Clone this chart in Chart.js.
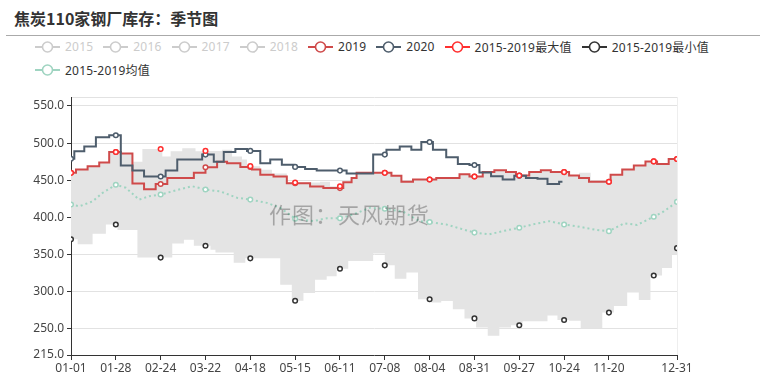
<!DOCTYPE html>
<html><head><meta charset="utf-8">
<script src="https://cdn.jsdelivr.net/npm/chart.js@4.4.0/dist/chart.umd.min.js"></script>
<style>
html,body{margin:0;padding:0;background:#fff;}
body{width:760px;height:389px;position:relative;overflow:hidden;font-family:"Noto Sans CJK SC","Noto Sans",sans-serif;}
#title{position:absolute;left:14px;top:6px;font-size:16px;font-weight:bold;color:#333;line-height:24px;white-space:nowrap;}
#sep{position:absolute;left:6px;right:0;top:35px;height:0;border-top:1px solid #aaa;}
#legend{position:absolute;left:35px;top:35px;width:705px;display:flex;flex-wrap:wrap;font-size:12px;font-family:"Noto Sans","Noto Sans CJK SC",sans-serif;letter-spacing:0.2px;}
.item{display:flex;align-items:center;height:23px;margin-right:10px;color:#333;white-space:nowrap;}
.item svg{margin-right:5px;display:block;}
.item.off{color:#ccc;}
#wrap{position:absolute;left:0;top:0;width:760px;height:389px;}
#wm{position:absolute;left:269px;top:198px;font-size:22px;line-height:30px;letter-spacing:1px;color:rgba(0,0,0,0.28);white-space:nowrap;pointer-events:none;}
</style>
</head><body>
<div id="title">焦炭110家钢厂库存：季节图</div>
<div id="sep"></div>
<div id="legend"></div>
<div id="wrap"><canvas id="c"></canvas></div>
<div id="wm">作图：天风期货</div>
<script>
// ---- data (day index of year, 0 = 01-01; values) ----
const X_TICK_LABELS = ['01-01','01-28','02-24','03-22','04-18','05-15','06-11','07-08','08-04','08-31','09-27','10-24','11-20','12-31'];
const Y_TICK_VALUES = [215,250,300,350,400,450,500,550];
const Y_MIN = 215, Y_MAX = 562;

const SERIES_NAMES = ['2015','2016','2017','2018','2019','2020','2015-2019最大值','2015-2019最小值','2015-2019均值'];

const DAYS_2019 = [0,3,10,17,23,27,30,37,44,51,54,58,74,81,88,94,102,108,109,114,122,130,135,144,152,162,164,169,172,189,193,199,206,216,220,234,240,243,248,255,262,268,270,276,283,289,297,300,306,312,324,325,332,339,346,351,353,360,365];
const VALS_2019 = [460,464.5,469,474,488,488,486,445.5,438,445,445,453,460,467.5,475,473,468,468,464.5,457.5,455,446,446,441.5,439.5,439.5,447.5,453,460,460,456,448,451,451,453,458,455,455,461,463.5,461,456.5,456.5,461,463.5,461,461,456.5,453,448,448,457.5,464.5,470,475.4,475.4,472,478.6,478.6];

const DAYS_2020 = [0,2,8,15,23,27,30,37,44,54,57,64,79,81,86,92,99,106,108,114,120,127,134,135,141,148,162,166,182,189,190,198,205,211,216,218,226,233,240,243,246,253,260,267,270,274,281,287,294,296];
const VALS_2020 = [479,489,495.5,508,510.5,510.5,470,463,455,455,463,478,484.5,484.5,475,488,492,489.5,489.5,473,478,471,468,468,465,463,463,459,484.5,484.5,491,495.5,491,501.5,501.5,491,481,472,470.5,470.5,460.5,455.5,451,456,456,453,452,445,448,448];

const DAYS_MAX = [0,3,10,17,23,27,30,37,43,54,55,60,67,75,81,91,97,103,106,108,114,121,130,135,150,156,162,164,169,172,189,193,199,206,216,220,234,240,243,248,255,262,268,270,276,283,289,297,300,306,313,324,325,332,339,346,351,353,360,365];
const VALS_MAX = [460,464.5,469,474,488,488,486,475,492,492,482,489,493,489,489.5,491,482,478,469,469,464,459,447,447,448,442,442,447.5,453,460,460,456,448,451,451,453,458,455,455,461,463.5,461,456.5,456.5,461,463.5,461,461,456.5,460,448,448,457.5,464.5,470,475.4,475.4,472,478.6,478.6];

const DAYS_MIN = [0,4,13,21,27,28,40,54,61,68,74,81,84,87,98,105,108,126,133,135,140,147,154,160,162,167,182,189,195,202,209,216,217,223,230,237,243,244,251,258,265,270,272,287,293,297,300,307,320,324,327,335,342,349,351,356,362,365];
const VALS_MIN = [370.6,364,378,390.6,390.6,383,346,346,365,370,362,362,356.5,353,339,345,345,309.6,288,288,298.5,316.3,320.8,330.7,331,341.5,351.6,335.6,317.7,325.8,290,290,285.6,287.7,276.6,264.2,264.2,252,241,252,255,255,260.5,268,262,262,261,251,272,272,281,299,289,322,322,332,350,358.7];

const DAYS_MEAN = [0,5,13,19,27,33,41,47,54,65,73,81,90,100,108,118,126,135,146,154,162,170,180,189,200,210,216,226,236,243,252,260,270,278,288,297,305,317,324,333,341,351,357,365];
const VALS_MEAN = [417.4,415,421.6,433,444,440,424,428.5,430.8,437.5,442,437.5,435,426.5,424,419.6,413,398.3,395,399,399,404,413,411.6,408,395,393.8,390.6,384,379.6,377.3,381.6,386.2,390.6,395,390.6,388,383,381.6,392,390,401,408,421];

// ---- helpers ----
const YEAR = 2020;
function labelToDay(lbl){ const [m,d]=lbl.split('-').map(Number); return Math.round((Date.UTC(YEAR,m-1,d)-Date.UTC(YEAR,0,1))/864e5); }
function dayToLabel(day){ const dt=new Date(Date.UTC(YEAR,0,1)+day*864e5); return String(dt.getUTCMonth()+1).padStart(2,'0')+'-'+String(dt.getUTCDate()).padStart(2,'0'); }
const X_TICK_DAYS = X_TICK_LABELS.map(labelToDay);
const LAST_DAY = X_TICK_DAYS[X_TICK_DAYS.length-1];
const MARK_EVERY = X_TICK_DAYS[1]-X_TICK_DAYS[0];
function pts(days, vals){ return days.map((d,i)=>({x:d,y:vals[i]})); }
function markR(ctx){ const x = ctx.raw ? ctx.raw.x : -1; return (x % MARK_EVERY === 0 || x === LAST_DAY) ? 2.3 : 0; }

const FONT = '"Noto Sans","Noto Sans CJK SC",sans-serif';
const C = {off:'#cccccc', y2019:'#cf4a4a', y2020:'#4e5d6c', max:'#ff2f2f', min:'#333333', mean:'#9fd4c1', band:'#e4e4e4'};

function lineDs(label, data, color, extra){
  return Object.assign({label, data, borderColor:color, backgroundColor:color, legendColor:color,
    borderWidth:2, stepped:'before', pointRadius:markR, pointHoverRadius:markR,
    pointBackgroundColor:'#fff', pointBorderColor:color, pointBorderWidth:1.5, fill:false}, extra||{});
}

const datasets = [
  {label:SERIES_NAMES[0], data:[], hidden:true, legendColor:C.off},
  {label:SERIES_NAMES[1], data:[], hidden:true, legendColor:C.off},
  {label:SERIES_NAMES[2], data:[], hidden:true, legendColor:C.off},
  {label:SERIES_NAMES[3], data:[], hidden:true, legendColor:C.off},
  lineDs(SERIES_NAMES[4], pts(DAYS_2019, VALS_2019), C.y2019, {order:4}),
  lineDs(SERIES_NAMES[5], pts(DAYS_2020, VALS_2020), C.y2020, {order:3}),
  lineDs(SERIES_NAMES[6], pts(DAYS_MAX, VALS_MAX), C.max, {order:2, borderColor:'rgba(0,0,0,0)', borderWidth:1, backgroundColor:C.band, fill:'+1'}),
  lineDs(SERIES_NAMES[7], pts(DAYS_MIN, VALS_MIN), C.min, {order:1, borderColor:'rgba(0,0,0,0)', borderWidth:1}),
  lineDs(SERIES_NAMES[8], pts(DAYS_MEAN, VALS_MEAN), C.mean, {order:5, stepped:false, borderDash:[2,3], borderWidth:2}),
];

const chart = new Chart(document.getElementById('c'), {
  type:'line',
  data:{datasets},
  options:{
    responsive:true, maintainAspectRatio:false, animation:false, events:[],
    layout:{padding:{left:0,right:83,top:97,bottom:0}},
    plugins:{legend:{display:false}, tooltip:{enabled:false}, title:{display:false}, filler:{drawTime:'beforeDatasetsDraw'}},
    scales:{
      x:{type:'linear', min:0, max:LAST_DAY,
        afterBuildTicks:s=>{ s.ticks = X_TICK_DAYS.map(v=>({value:v})); },
        afterFit:s=>{ s.height = 34; },
        ticks:{autoSkip:false, maxRotation:0, minRotation:0, padding:1, color:'#444', font:{size:12, family:FONT}, callback:v=>dayToLabel(v)},
        grid:{color:c=>(c.tick && c.tick.value===LAST_DAY)?'#eeeeee':'rgba(0,0,0,0)', tickColor:'#333', tickLength:5, lineWidth:1},
        border:{color:'#333', width:1}
      },
      y:{min:Y_MIN, max:Y_MAX,
        afterBuildTicks:s=>{ s.ticks = Y_TICK_VALUES.concat([Y_MAX]).map(v=>({value:v})); },
        afterFit:s=>{ s.width = 71; },
        ticks:{padding:3, color:'#444', font:{size:12, family:FONT}, callback:v=>Y_TICK_VALUES.includes(v)?v.toFixed(1):''},
        grid:{color:c=>(c.tick && c.tick.value===Y_MIN)?'rgba(0,0,0,0)':'#e2e2e2', tickColor:c=>(c.tick && c.tick.value===Y_MAX)?'rgba(0,0,0,0)':'#333', tickLength:4},
        border:{color:'#333', width:1}
      }
    }
  }
});

// ---- HTML legend built from the chart's datasets ----
const legendEl = document.getElementById('legend');
chart.data.datasets.forEach(ds=>{
  const col = ds.legendColor;
  const it = document.createElement('div');
  it.className = 'item' + (ds.hidden ? ' off' : '');
  it.innerHTML = '<svg width="25" height="14"><line x1="0" y1="7" x2="25" y2="7" stroke="'+col+'" stroke-width="2"/><circle cx="12.5" cy="7" r="5" fill="#fff" stroke="'+col+'" stroke-width="1.6"/></svg>';
  const sp = document.createElement('span'); sp.textContent = ds.label; it.appendChild(sp);
  legendEl.appendChild(it);
});
</script>
</body></html>
